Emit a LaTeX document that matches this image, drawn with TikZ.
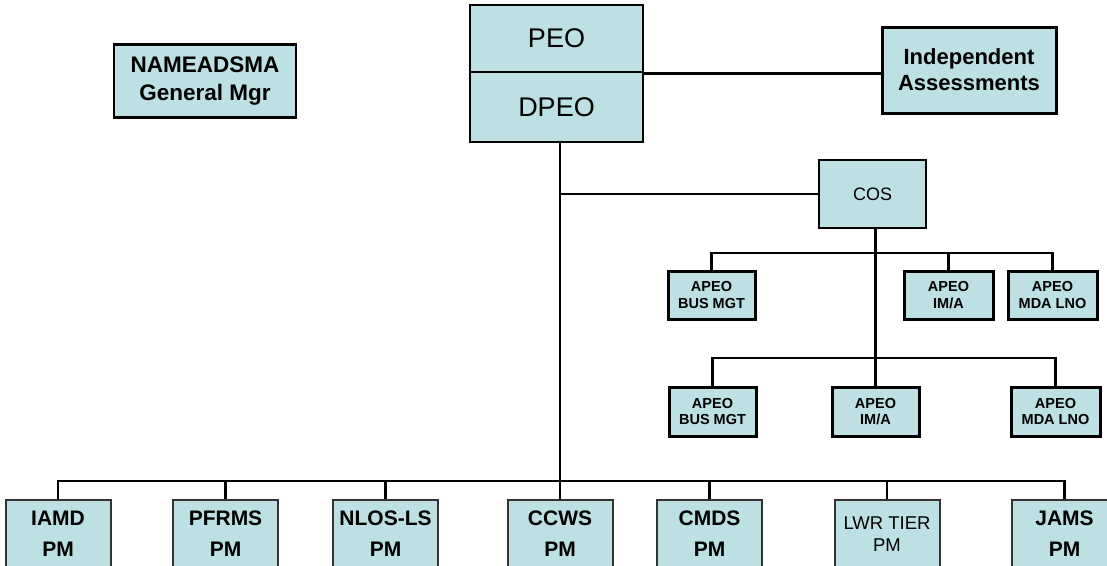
\documentclass[tikz,border=0pt]{standalone}
\usepackage{fontspec}
\setmainfont{Liberation Sans}
\definecolor{boxfill}{RGB}{188,224,227}
\begin{document}
\begin{tikzpicture}[x=1pt,y=-1pt,
  box/.style={draw=black, line width=2.6pt, fill=boxfill, align=center, inner sep=0pt},
  apeo/.style={box, line width=3pt, minimum height=48pt, font=\fontsize{14.5}{16.5}\selectfont\bfseries},
  pmbox/.style={box, draw=black!80, line width=2pt, minimum width=105pt, minimum height=68pt, font=\fontsize{21}{31}\selectfont\bfseries},
  conn/.style={line width=2.8pt, black}]
\useasboundingbox (0,0) rectangle (1107,565);
\clip (0,0) rectangle (1107,565);

% top level
\node[box, minimum width=182pt, minimum height=73pt, font=\fontsize{22.5}{28}\selectfont\bfseries] (nam) at (205,81) {NAMEADSMA\\General Mgr};
\node[box, minimum width=173pt, minimum height=67pt, font=\fontsize{27}{30}\selectfont] (peo) at (556.5,38.5) {PEO};
\node[box, minimum width=173pt, minimum height=70pt, font=\fontsize{27}{30}\selectfont] (dpeo) at (556.5,107) {DPEO};
\node[box, line width=3pt, minimum width=174pt, minimum height=86pt, font=\fontsize{22}{26}\selectfont\bfseries] (ia) at (969,70) {Independent\\Assessments};
\node[box, minimum width=107pt, minimum height=68pt, font=\fontsize{18}{22}\selectfont] (cos) at (872.5,194) {COS};

% APEO rows
\node[apeo, minimum width=87pt] (bus1) at (711.5,295) {APEO\\BUS MGT};
\node[apeo, minimum width=89pt] (ima1) at (948.5,295) {APEO\\IM/A};
\node[apeo, minimum width=89pt] (mda1) at (1052.5,295) {APEO\\MDA LNO};
\node[apeo, minimum width=87pt, minimum height=49pt] (bus2) at (712.5,411.5) {APEO\\BUS MGT};
\node[apeo, minimum width=87pt, minimum height=49pt] (ima2) at (875.5,411.5) {APEO\\IM/A};
\node[apeo, minimum width=89pt, minimum height=49pt] (mda2) at (1055.5,411.5) {APEO\\MDA LNO};

% PM row
\node[pmbox] (iamd) at (58,534) {IAMD\\PM};
\node[pmbox] (pfrms) at (225.5,534) {PFRMS\\PM};
\node[pmbox] (nlos) at (385.5,534) {NLOS-LS\\PM};
\node[pmbox] (ccws) at (560,534) {CCWS\\PM};
\node[pmbox] (cmds) at (709.5,534) {CMDS\\PM};
\node[pmbox, font=\fontsize{18.5}{22}\selectfont] (lwr) at (887,534) {LWR TIER\\PM};
\node[pmbox] (jams) at (1064.5,534) {JAMS\\PM};

% connectors
\coordinate (bus) at (0,481);
\coordinate (r1) at (0,253);
\coordinate (r2) at (0,358);

\draw[conn] (peo.south east) -- (peo.south east -| ia.west);
\draw[conn] (ccws.north |- dpeo.south) -- (ccws.north);
\draw[conn] (ccws.north |- cos.west) -- (cos.west);
\draw[conn] (ima2.north |- cos.south) -- (ima2.north);

\draw[conn] (bus1.north) -- (bus1.north |- r1) -- (mda1.north |- r1) -- (mda1.north);
\draw[conn] (ima1.north) -- (ima1.north |- r1);
\draw[conn] (bus2.north) -- (bus2.north |- r2) -- (mda2.north |- r2) -- (mda2.north);

\draw[conn] (iamd.north) -- (iamd.north |- bus) -- (jams.north |- bus) -- (jams.north);
\draw[conn] (pfrms.north) -- (pfrms.north |- bus);
\draw[conn] (nlos.north) -- (nlos.north |- bus);
\draw[conn] (cmds.north) -- (cmds.north |- bus);
\draw[conn] (lwr.north) -- (lwr.north |- bus);
\end{tikzpicture}
\end{document}
